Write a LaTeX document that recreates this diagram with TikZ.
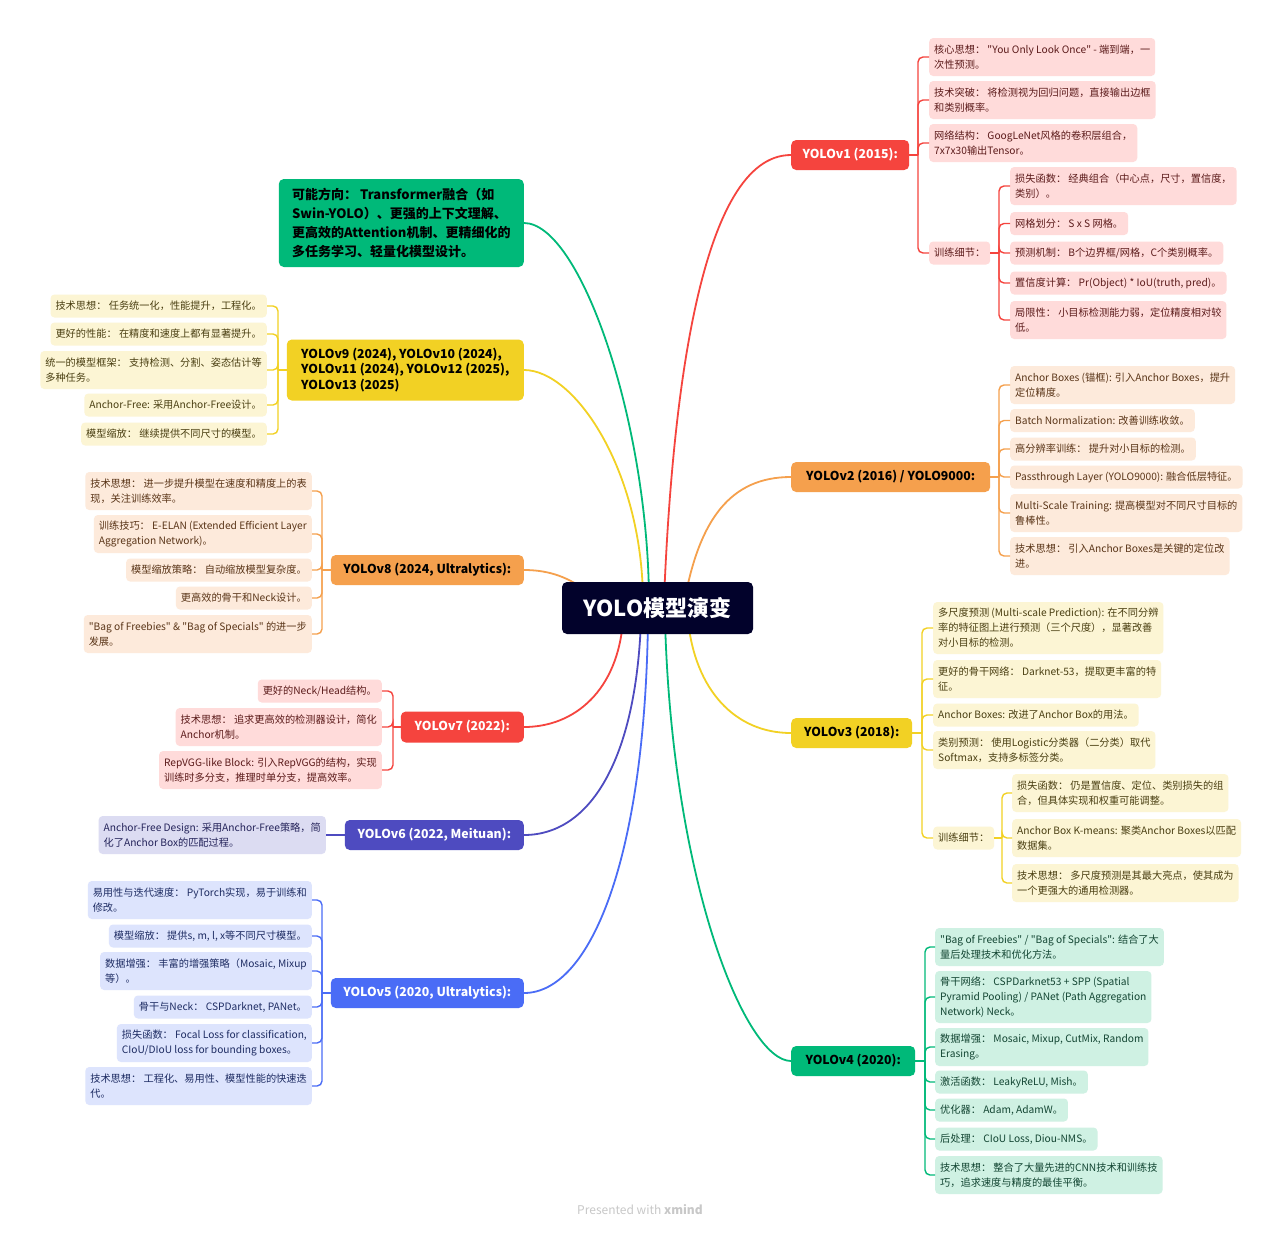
\documentclass[tikz,border=0pt]{standalone}
\usepackage{fontspec}
\setmainfont{Noto Sans CJK SC}
\newfontfamily\nf{Noto Sans CJK SC}
\usetikzlibrary{calc,backgrounds}
\definecolor{cRed}{HTML}{F5443E}
\definecolor{cRedL}{HTML}{FFDBDA}
\definecolor{cRedT}{HTML}{5C1B1B}
\definecolor{cOra}{HTML}{F5A04D}
\definecolor{cOraL}{HTML}{FDEADB}
\definecolor{cOraT}{HTML}{5A3518}
\definecolor{cYel}{HTML}{F2D124}
\definecolor{cYelL}{HTML}{FCF5D4}
\definecolor{cYelT}{HTML}{4A3F12}
\definecolor{cGrn}{HTML}{00B979}
\definecolor{cGrnL}{HTML}{CFF1E3}
\definecolor{cGrnT}{HTML}{124532}
\definecolor{cInd}{HTML}{4E4BC0}
\definecolor{cIndL}{HTML}{DCDCF2}
\definecolor{cIndT}{HTML}{24235A}
\definecolor{cBlu}{HTML}{4A6CF6}
\definecolor{cBluL}{HTML}{DDE4FD}
\definecolor{cBluT}{HTML}{1E2C63}
\definecolor{cCtr}{HTML}{02022B}
\definecolor{cFoot}{HTML}{C8C8C8}
\tikzset{
  leaf/.style={rounded corners=4pt, inner xsep=5pt, inner ysep=0pt, align=left,
    font=\nf\fontsize{10.2}{15}\selectfont},
  lna/.style={minimum height=23pt},
  lnb/.style={minimum height=38pt},
  lnc/.style={minimum height=52pt},
  aw/.style={anchor=west},
  ae/.style={anchor=east},
  lr/.style={leaf, fill=cRedL, text=cRedT},
  lo/.style={leaf, fill=cOraL, text=cOraT},
  ly/.style={leaf, fill=cYelL, text=cYelT},
  lg/.style={leaf, fill=cGrnL, text=cGrnT},
  li/.style={leaf, fill=cIndL, text=cIndT},
  lb/.style={leaf, fill=cBluL, text=cBluT},
  topic/.style={rounded corners=5pt, inner sep=0pt, minimum height=30pt, align=center,
    text=black, font=\nf\fontsize{12.3}{15}\selectfont\bfseries},
  ctrbox/.style={fill=cCtr, text=white, rounded corners=5pt, minimum width=191pt,
    minimum height=52pt, inner sep=0pt, font=\nf\fontsize{22}{26}\selectfont\bfseries},
  br/.style={line width=1.4pt, rounded corners=5pt},
  mc/.style={line width=1.8pt},
}
\begin{document}
\begin{tikzpicture}[x=1pt,y=-1pt]
\useasboundingbox (0,0) rectangle (1280,1232);

% centre
\node[ctrbox] (ctr) at (657.5,608) {YOLO模型演变};

% topics right
\node[topic, aw, fill=cRed, text=white, minimum width=118pt] (v1) at (791,155) {YOLOv1 (2015):};
\node[topic, aw, fill=cOra, minimum width=199pt] (v2) at (791,477) {YOLOv2 (2016) / YOLO9000:};
\node[topic, aw, fill=cYel, minimum width=121pt] (v3) at (791,733) {YOLOv3 (2018):};
\node[topic, aw, fill=cGrn, minimum width=124pt] (v4) at (791,1061) {YOLOv4 (2020):};
% topics left
\node[topic, ae, fill=cGrn, minimum width=245pt, minimum height=88pt, align=left,
  font=\nf\fontsize{13}{18.7}\selectfont\bfseries] (fut) at (524,223)
  {可能方向： Transformer融合（如\\Swin-YOLO）、更强的上下文理解、\\更高效的Attention机制、更精细化的\\多任务学习、轻量化模型设计。};
\node[topic, ae, fill=cYel, minimum width=237pt, minimum height=61pt, align=left,
  font=\nf\fontsize{12.3}{15.6}\selectfont\bfseries] (v9) at (524,370)
  {YOLOv9 (2024), YOLOv10 (2024),\\YOLOv11 (2024), YOLOv12 (2025),\\YOLOv13 (2025)};
\node[topic, ae, fill=cOra, minimum width=193pt] (v8) at (524,570) {YOLOv8 (2024, Ultralytics):};
\node[topic, ae, fill=cRed, text=white, minimum width=123pt, minimum height=31pt] (v7) at (524,727) {YOLOv7 (2022):};
\node[topic, ae, fill=cInd, text=white, minimum width=179pt] (v6) at (524,835) {YOLOv6 (2022, Meituan):};
\node[topic, ae, fill=cBlu, text=white, minimum width=193pt] (v5) at (524,993) {YOLOv5 (2020, Ultralytics):};

% ---------- YOLOv1 leaves
\node[lr, aw, lnb] (v1a) at (929,57) {核心思想： "You Only Look Once" - 端到端，一\\次性预测。};
\node[lr, aw, lnb] (v1b) at (929,100) {技术突破： 将检测视为回归问题，直接输出边框\\和类别概率。};
\node[lr, aw, lnb] (v1c) at (929,143) {网络结构： GoogLeNet风格的卷积层组合，\\7x7x30输出Tensor。};
\node[lr, aw, lna] (v1d) at (929,253) {训练细节：};
\node[lr, aw, lnb] (v1d1) at (1010,186) {损失函数： 经典组合（中心点，尺寸，置信度，\\类别）。};
\node[lr, aw, lna] (v1d2) at (1010,223.5) {网格划分： S x S 网格。};
\node[lr, aw, lna] (v1d3) at (1010,253) {预测机制： B个边界框/网格，C个类别概率。};
\node[lr, aw, lna] (v1d4) at (1010,283) {置信度计算： Pr(Object) * IoU(truth, pred)。};
\node[lr, aw, lnb] (v1d5) at (1010,320) {局限性： 小目标检测能力弱，定位精度相对较\\低。};
\coordinate (v1t) at (918,155);
\coordinate (v1dt) at (999,253);
\draw[br, cRed] (v1.east) -- (v1t);
\foreach \n in {v1a,v1b,v1c,v1d} \draw[br, cRed] (v1t) |- (\n.west);
\draw[br, cRed] (v1d.east) -- (v1dt);
\foreach \n in {v1d1,v1d2,v1d3,v1d4,v1d5} \draw[br, cRed] (v1dt) |- (\n.west);

% ---------- YOLOv2 leaves
\node[lo, aw, lnb] (v2a) at (1010,385) {Anchor Boxes (锚框): 引入Anchor Boxes，提升\\定位精度。};
\node[lo, aw, lna] (v2b) at (1010,420.5) {Batch Normalization: 改善训练收敛。};
\node[lo, aw, lna] (v2c) at (1010,449) {高分辨率训练： 提升对小目标的检测。};
\node[lo, aw, lna] (v2d) at (1010,477) {Passthrough Layer (YOLO9000): 融合低层特征。};
\node[lo, aw, lnb] (v2e) at (1010,513) {Multi-Scale Training: 提高模型对不同尺寸目标的\\鲁棒性。};
\node[lo, aw, lnb] (v2f) at (1010,556) {技术思想： 引入Anchor Boxes是关键的定位改\\进。};
\coordinate (v2t) at (999,477);
\draw[br, cOra] (v2.east) -- (v2t);
\foreach \n in {v2a,v2b,v2c,v2d,v2e,v2f} \draw[br, cOra] (v2t) |- (\n.west);

% ---------- YOLOv3 leaves
\node[ly, aw, lnc] (v3a) at (933,628) {多尺度预测 (Multi-scale Prediction): 在不同分辨\\率的特征图上进行预测（三个尺度），显著改善\\对小目标的检测。};
\node[ly, aw, lnb] (v3b) at (933,679) {更好的骨干网络： Darknet-53，提取更丰富的特\\征。};
\node[ly, aw, lna] (v3c) at (933,715) {Anchor Boxes: 改进了Anchor Box的用法。};
\node[ly, aw, lnb] (v3d) at (933,750) {类别预测： 使用Logistic分类器（二分类）取代\\Softmax，支持多标签分类。};
\node[ly, aw, lna] (v3e) at (933,838) {训练细节：};
\node[ly, aw, lnb] (v3e1) at (1012,793) {损失函数： 仍是置信度、定位、类别损失的组\\合，但具体实现和权重可能调整。};
\node[ly, aw, lnb] (v3e2) at (1012,838) {Anchor Box K-means: 聚类Anchor Boxes以匹配\\数据集。};
\node[ly, aw, lnb] (v3e3) at (1012,883) {技术思想： 多尺度预测是其最大亮点，使其成为\\一个更强大的通用检测器。};
\coordinate (v3t) at (922,733);
\coordinate (v3et) at (1002,838);
\draw[br, cYel] (v3.east) -- (v3t);
\foreach \n in {v3a,v3b,v3c,v3d,v3e} \draw[br, cYel] (v3t) |- (\n.west);
\draw[br, cYel] (v3e.east) -- (v3et);
\foreach \n in {v3e1,v3e2,v3e3} \draw[br, cYel] (v3et) |- (\n.west);

% ---------- YOLOv4 leaves
\node[lg, aw, lnb] (v4a) at (935,947) {"Bag of Freebies" / "Bag of Specials": 结合了大\\量后处理技术和优化方法。};
\node[lg, aw, lnc] (v4b) at (935,997) {骨干网络： CSPDarknet53 + SPP (Spatial\\Pyramid Pooling) / PANet (Path Aggregation\\Network) Neck。};
\node[lg, aw, lnb] (v4c) at (935,1047) {数据增强： Mosaic, Mixup, CutMix, Random\\Erasing。};
\node[lg, aw, lna] (v4d) at (935,1082) {激活函数： LeakyReLU, Mish。};
\node[lg, aw, lna] (v4e) at (935,1110) {优化器： Adam, AdamW。};
\node[lg, aw, lna] (v4f) at (935,1139) {后处理： CIoU Loss, Diou-NMS。};
\node[lg, aw, lnb] (v4g) at (935,1175) {技术思想： 整合了大量先进的CNN技术和训练技\\巧，追求速度与精度的最佳平衡。};
\coordinate (v4t) at (925,1061);
\draw[br, cGrn] (v4.east) -- (v4t);
\foreach \n in {v4a,v4b,v4c,v4d,v4e,v4f,v4g} \draw[br, cGrn] (v4t) |- (\n.west);

% ---------- YOLOv9-13 leaves
\node[ly, ae, lna] (v9a) at (267,306) {技术思想： 任务统一化，性能提升，工程化。};
\node[ly, ae, lna] (v9b) at (267,334) {更好的性能： 在精度和速度上都有显著提升。};
\node[ly, ae, lnb] (v9c) at (267,370) {统一的模型框架： 支持检测、分割、姿态估计等\\多种任务。};
\node[ly, ae, lna] (v9d) at (267,405) {Anchor-Free: 采用Anchor-Free设计。};
\node[ly, ae, lna] (v9e) at (267,434) {模型缩放： 继续提供不同尺寸的模型。};
\coordinate (v9t) at (278,370);
\draw[br, cYel] (v9.west) -- (v9t);
\foreach \n in {v9a,v9b,v9c,v9d,v9e} \draw[br, cYel] (v9t) |- (\n.east);

% ---------- YOLOv8 leaves
\node[lo, ae, lnb] (v8a) at (312,491) {技术思想： 进一步提升模型在速度和精度上的表\\现，关注训练效率。};
\node[lo, ae, lnb] (v8b) at (312,534) {训练技巧： E-ELAN (Extended Efficient Layer\\Aggregation Network)。};
\node[lo, ae, lna] (v8c) at (312,570) {模型缩放策略： 自动缩放模型复杂度。};
\node[lo, ae, lna] (v8d) at (312,598) {更高效的骨干和Neck设计。};
\node[lo, ae, lnb] (v8e) at (312,634) {"Bag of Freebies" \& "Bag of Specials" 的进一步\\发展。};
\coordinate (v8t) at (322,570);
\draw[br, cOra] (v8.west) -- (v8t);
\foreach \n in {v8a,v8b,v8c,v8d,v8e} \draw[br, cOra] (v8t) |- (\n.east);

% ---------- YOLOv7 leaves
\node[lr, ae, lna] (v7a) at (382,691) {更好的Neck/Head结构。};
\node[lr, ae, lnb] (v7b) at (382,727) {技术思想： 追求更高效的检测器设计，简化\\Anchor机制。};
\node[lr, ae, lnb] (v7c) at (382,770) {RepVGG-like Block: 引入RepVGG的结构，实现\\训练时多分支，推理时单分支，提高效率。};
\coordinate (v7t) at (393,727);
\draw[br, cRed] (v7.west) -- (v7t);
\foreach \n in {v7a,v7b,v7c} \draw[br, cRed] (v7t) |- (\n.east);

% ---------- YOLOv6 leaf
\node[li, ae, lnb] (v6a) at (326,835) {Anchor-Free Design: 采用Anchor-Free策略，简\\化了Anchor Box的匹配过程。};
\draw[br, cInd] (v6.west) -- (v6a.east);

% ---------- YOLOv5 leaves
\node[lb, ae, lnb] (v5a) at (312,900) {易用性与迭代速度： PyTorch实现，易于训练和\\修改。};
\node[lb, ae, lna] (v5b) at (312,936) {模型缩放： 提供s, m, l, x等不同尺寸模型。};
\node[lb, ae, lnb] (v5c) at (312,971) {数据增强： 丰富的增强策略（Mosaic, Mixup\\等）。};
\node[lb, ae, lna] (v5d) at (312,1007) {骨干与Neck： CSPDarknet, PANet。};
\node[lb, ae, lnb] (v5e) at (312,1043) {损失函数： Focal Loss for classification,\\CIoU/DIoU loss for bounding boxes。};
\node[lb, ae, lnb] (v5f) at (312,1086) {技术思想： 工程化、易用性、模型性能的快速迭\\代。};
\coordinate (v5t) at (322,993);
\draw[br, cBlu] (v5.west) -- (v5t);
\foreach \n in {v5a,v5b,v5c,v5d,v5e,v5f} \draw[br, cBlu] (v5t) |- (\n.east);

% footer
\node[text=cFoot, font=\nf\fontsize{12}{14}\selectfont] (foot) at (640,1210) {Presented with \textbf{xmind}};

% main curves behind the centre
\begin{pgfonlayer}{background}
\fill[white] (0,0) rectangle (1280,1232);
\draw[mc, cRed] ($(ctr.center)+(6.5,-8)$) .. controls (672,400) and (700,155) .. (v1.west);
\draw[mc, cGrn] ($(ctr.center)+(-8.5,-8)$) .. controls (648,420) and (580,223) .. (fut.east);
\draw[mc, cYel] ($(ctr.center)+(-14.5,-8)$) .. controls (642,470) and (575,370) .. (v9.east);
\draw[mc, cOra] ($(ctr.center)+(-72.5,-18)$) .. controls (565,575) and (545,570) .. (v8.east);
\draw[mc, cOra] ($(ctr.center)+(27.5,-10)$) .. controls (700,520) and (730,477) .. (v2.west);
\draw[mc, cRed] ($(ctr.center)+(-34.5,12)$) .. controls (618,690) and (575,727) .. (v7.east);
\draw[mc, cInd] ($(ctr.center)+(-16.5,12)$) .. controls (636,760) and (590,835) .. (v6.east);
\draw[mc, cBlu] ($(ctr.center)+(-9.5,12)$) .. controls (645,860) and (590,993) .. (v5.east);
\draw[mc, cGrn] ($(ctr.center)+(7.5,12)$) .. controls (672,880) and (745,1061) .. (v4.west);
\draw[mc, cYel] ($(ctr.center)+(30.5,12)$) .. controls (695,690) and (735,733) .. (v3.west);
\end{pgfonlayer}
\end{tikzpicture}
\end{document}
